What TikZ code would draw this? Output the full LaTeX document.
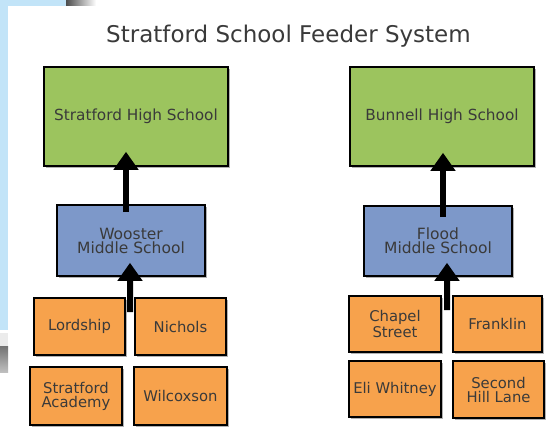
\documentclass[tikz,border=0pt]{standalone}
\usepackage{fontspec}
\setmainfont{DejaVu Sans}
\usetikzlibrary{arrows.meta,shadows,calc}
\definecolor{hsgreen}{HTML}{9CC45E}
\definecolor{msblue}{HTML}{7D98C9}
\definecolor{esorange}{HTML}{F7A24C}
\definecolor{txtgray}{HTML}{3A3A3A}
\definecolor{stripblue}{HTML}{C2E4F8}
\tikzset{
  box/.style={draw=black, line width=1.6pt, align=center, text=txtgray, inner sep=2pt,
    font=\fontsize{14.8}{14}\selectfont,
    drop shadow={shadow xshift=1.5pt, shadow yshift=-2pt, opacity=0.3, fill=black}},
  hsbox/.style={box, fill=hsgreen, font=\fontsize{15.3}{16}\selectfont},
  msbox/.style={box, fill=msblue, font=\fontsize{15.5}{14}\selectfont},
  esbox/.style={box, fill=esorange},
  uparrow/.style={line width=6pt, -{Triangle[width=24pt,length=18pt]}},
  titletext/.style={font=\fontsize{23}{26}\selectfont, text=txtgray, anchor=base, inner sep=0pt}
}
\begin{document}
\begin{tikzpicture}[x=1pt, y=-1pt]
  % background and screenshot edges
  \fill[white] (0,0) rectangle (557,436);
  \useasboundingbox (0,0) rectangle (557,436);
  \fill[stripblue] (0,0) rectangle (8,330);
  \fill[stripblue] (0,0) rectangle (66,6);
  \shade[left color=black!70, right color=white] (66,0) rectangle (96,6);
  \fill[black!8] (0,333) rectangle (8,346);
  \shade[top color=black!55, bottom color=black!25] (0,346) rectangle (8,372);

  % title
  \node[titletext] (title) at (288.5,42.5) {Stratford School Feeder System};

  % high schools
  \node[hsbox, minimum width=184pt, minimum height=99pt] (shs) at (136,116.5) {Stratford High School};
  \node[hsbox, minimum width=184pt, minimum height=99pt] (bhs) at (442,116.5) {Bunnell High School};

  % middle schools
  \node[msbox, minimum width=148pt, minimum height=71pt] (wms) at (131,240.5) {Wooster\\Middle School};
  \node[msbox, minimum width=148pt, minimum height=70pt] (fms) at (438,241) {Flood\\Middle School};

  % elementary schools (Stratford side)
  \node[esbox, minimum width=91pt, minimum height=57pt] (lordship) at (79.5,326.5) {Lordship};
  \node[esbox, minimum width=91pt, minimum height=57pt] (nichols) at (180.5,326.5) {Nichols};
  \node[esbox, minimum width=92pt, minimum height=58pt] (academy) at (76,396) {Stratford\\Academy};
  \node[esbox, minimum width=93pt, minimum height=58pt] (wilcoxson) at (180.5,396) {Wilcoxson};

  % elementary schools (Bunnell side)
  \node[esbox, minimum width=92pt, minimum height=56pt] (chapel) at (395,324) {Chapel\\Street};
  \node[esbox, minimum width=89pt, minimum height=56pt] (franklin) at (497.5,324) {Franklin};
  \node[esbox, minimum width=92pt, minimum height=56pt] (eli) at (395,389) {Eli Whitney};
  \node[esbox, minimum width=91pt, minimum height=57pt] (second) at (498.5,389.5) {Second\\Hill Lane};

  % gaps between elementary boxes where the lower arrows start
  \coordinate (lgap) at ($(lordship.north east)!0.5!(nichols.north west)+(0,15)$);
  \coordinate (rgap) at ($(chapel.north east)!0.5!(franklin.north west)+(0,15)$);

  % arrows
  \draw[uparrow] ([xshift=-5pt,yshift=-8pt]wms.north) -- ([xshift=-10pt,yshift=15pt]shs.south);
  \draw[uparrow] (lgap) -- ([xshift=-1pt,yshift=14pt]wms.south);
  \draw[uparrow] ([xshift=5pt,yshift=-12pt]fms.north) -- ([xshift=1pt,yshift=14pt]bhs.south);
  \draw[uparrow] (rgap) -- ([xshift=9pt,yshift=14pt]fms.south);
\end{tikzpicture}
\end{document}
